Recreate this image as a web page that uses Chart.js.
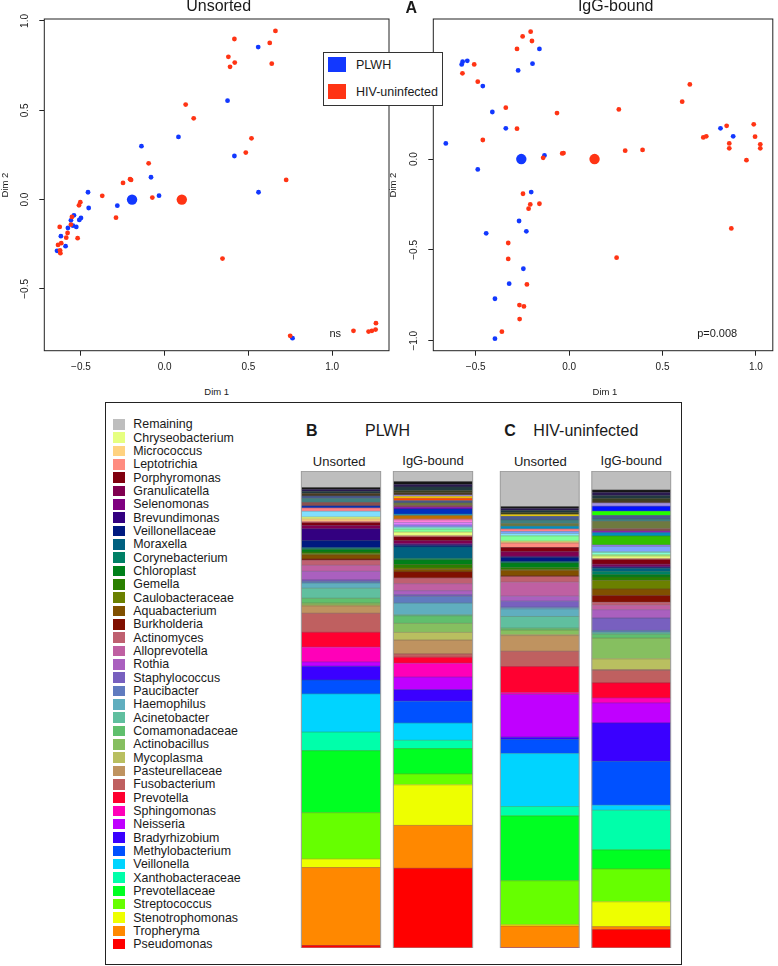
<!DOCTYPE html>
<html>
<head>
<meta charset="utf-8">
<script src="https://cdn.jsdelivr.net/npm/chart.js@4.4.1/dist/chart.umd.min.js"></script>
<style>
  body { margin: 0; width: 778px; height: 966px; position: relative; overflow: hidden; background: #fff;
         font-family: "Liberation Sans", Arial, sans-serif; color: #1a1a1a; }
  canvas { position: absolute; }
  .t { position: absolute; white-space: nowrap; line-height: 1; transform: translate(-50%, -50%); }
  .rot { transform: translate(-50%, -50%) rotate(-90deg); }
  #groupLegend { position: absolute; left: 323px; top: 52px; width: 120px; height: 54px; box-sizing: border-box;
                 border: 1px solid #333; background: #fff; z-index: 5; }
  #panel { position: absolute; left: 105px; top: 402px; width: 577px; height: 563px; box-sizing: border-box;
           border: 1.5px solid #222; }
  .sw { position: absolute; }
  .lab { position: absolute; font-size: 12.4px; line-height: 1; transform: translateY(-50%); white-space: nowrap; }
</style>
</head>
<body>
<canvas id="scUnsorted" width="395" height="385" style="left:0;top:0"></canvas>
<canvas id="scIgG" width="389" height="385" style="left:389px;top:0"></canvas>
<div id="groupLegend"></div>
<div id="panel"></div>
<canvas id="barB" width="184" height="477" style="left:295.35px;top:471.3px;z-index:3"></canvas>
<canvas id="barC" width="183" height="477" style="left:494px;top:471.3px;z-index:3"></canvas>
<div id="texts"></div>

<script>
// ---- ordination data (Dim 1 / Dim 2) ----
const unsortedPlwhX = [0.558, 0.375, 0.082, -0.139, 0.416, -0.082, -0.458, -0.034, 0.560, -0.283, -0.454, -0.500, -0.542, -0.510, -0.560, -0.548, -0.528, -0.578, -0.620, -0.592, -0.643, 0.763];
const unsortedPlwhY = [0.854, 0.554, 0.351, 0.299, 0.244, 0.125, 0.041, 0.022, 0.041, -0.034, -0.047, -0.103, -0.088, -0.114, -0.116, -0.146, -0.153, -0.159, -0.205, -0.261, -0.287, -0.776];
const unsortedHivX = [0.661, 0.416, 0.627, 0.380, 0.418, 0.390, 0.639, 0.125, 0.173, 0.518, 0.484, -0.096, 0.725, -0.207, -0.201, -0.249, -0.373, -0.074, -0.504, -0.512, -0.291, -0.554, -0.560, -0.627, -0.580, -0.588, -0.520, -0.618, -0.637, -0.625, -0.623, 0.345, 0.749, 1.127, 1.217, 1.237, 1.259, 1.261];
const unsortedHivY = [0.944, 0.899, 0.877, 0.799, 0.767, 0.743, 0.761, 0.532, 0.455, 0.343, 0.263, 0.203, 0.110, 0.114, 0.110, 0.093, 0.021, 0.011, -0.015, -0.032, -0.101, -0.097, -0.140, -0.153, -0.187, -0.213, -0.216, -0.244, -0.254, -0.284, -0.300, -0.330, -0.763, -0.735, -0.739, -0.735, -0.728, -0.692];
const unsortedCentroidX = [-0.195, 0.102];   // PLWH, HIV-uninfected

const iggPlwhX = [-0.159, -0.196, -0.273, -0.545, -0.570, -0.575, -0.462, -0.411, -0.339, -0.660, -0.132, 0.810, 0.878, -0.489, -0.203, -0.268, -0.229, -0.444, -0.245, -0.321, -0.397, -0.397];
const iggPlwhY = [0.606, 0.525, 0.488, 0.541, 0.536, 0.521, 0.402, 0.259, 0.169, 0.086, 0.020, 0.169, 0.125, -0.057, -0.182, -0.341, -0.398, -0.409, -0.604, -0.686, -0.769, -0.989];
const iggHivX = [-0.206, -0.249, -0.199, -0.279, -0.508, -0.571, -0.489, 0.646, 0.605, -0.339, 0.266, -0.065, -0.279, 0.843, 0.988, 0.995, 0.718, 0.734, -0.462, 0.857, 1.023, 0.857, 1.023, 0.393, 0.300, -0.030, -0.037, -0.139, 0.949, -0.247, -0.208, -0.159, -0.217, 0.868, -0.326, -0.326, 0.254, -0.226, -0.266, -0.242, -0.265, -0.360];
const iggHivY = [0.701, 0.675, 0.650, 0.606, 0.521, 0.472, 0.426, 0.411, 0.316, 0.283, 0.273, 0.253, 0.167, 0.183, 0.191, 0.123, 0.119, 0.125, 0.105, 0.086, 0.081, 0.059, 0.059, 0.050, 0.046, 0.033, 0.031, 0.007, -0.006, -0.191, -0.250, -0.246, -0.273, -0.382, -0.462, -0.550, -0.543, -0.690, -0.804, -0.811, -0.881, -0.950];
const iggCentroidX = [-0.256, 0.136];

const xTicks = [-0.5, 0, 0.5, 1];
const yTicksUnsorted = [-0.5, 0, 0.5, 1];
const yTicksIgG = [-1, -0.5, 0, 0.5];

const groupNames = ['PLWH', 'HIV-uninfected'];
const groupColors = ['#1238ff', '#ff3414'];

// ---- relative abundance (%), stack order bottom -> top ----
const taxa = ['Pseudomonas', 'Tropheryma', 'Stenotrophomonas', 'Streptococcus', 'Prevotellaceae', 'Xanthobacteraceae',
  'Veillonella', 'Methylobacterium', 'Bradyrhizobium', 'Neisseria', 'Sphingomonas', 'Prevotella', 'Fusobacterium',
  'Pasteurellaceae', 'Mycoplasma', 'Actinobacillus', 'Comamonadaceae', 'Acinetobacter', 'Haemophilus', 'Paucibacter',
  'Staphylococcus', 'Rothia', 'Alloprevotella', 'Actinomyces', 'Burkholderia', 'Aquabacterium', 'Caulobacteraceae',
  'Gemella', 'Chloroplast', 'Corynebacterium', 'Moraxella', 'Veillonellaceae', 'Brevundimonas', 'Selenomonas',
  'Granulicatella', 'Porphyromonas', 'Leptotrichia', 'Micrococcus', 'Chryseobacterium'];
const taxaColors = ['#ff0000', '#ff8800', '#eeff00', '#66ff00', '#00ff22', '#00ffaa', '#00d4ff', '#0051ff', '#3a00ff',
  '#c000ff', '#ff00b8', '#ff0030', '#bf6060', '#bf9360', '#b9bf60', '#86bf60', '#60bf6d', '#60bf9f', '#60aebf',
  '#607bbf', '#7860bf', '#aa60bf', '#bf60a2', '#bf6070', '#800f00', '#805000', '#6b8000', '#2a8000', '#00801a',
  '#008066', '#006080', '#001a80', '#330080', '#7f0080', '#800050', '#80000f', '#ff8c80', '#ffd280', '#e6ff80'];

const plwhUnsorted = [0.52, 16.35, 1.8, 9.7, 13.0, 3.9, 8.0, 2.9, 2.9, 0.9, 3.1, 3.1, 4.0, 1.55, 0.2, 0.4, 1.0, 2.1, 1.1, 0.3,
  0.35, 1.8, 1.26, 1.1, 0.2, 0.9, 0.2, 0.4, 0.5, 0.2, 0.2, 1.47, 2.45, 0.1, 0.6, 0.6, 0.3, 0.5, 0.4];
const plwhIgG = [16.7, 9.0, 8.5, 2.3, 5.3, 1.75, 3.6, 4.6, 2.4, 2.65, 2.9, 1.26, 0.7, 2.9, 1.6, 1.9, 1.6, 0.2, 2.45, 1.4,
  0.35, 0.85, 1.47, 1.2, 1.26, 0.5, 0.35, 0.7, 1.0, 0.3, 2.4, 0.3, 0.2, 0.2, 0.6, 0.8, 0.15, 0.15, 0.7];
const hivUnsorted = [0.1, 4.5, 0.3, 9.2, 13.6, 1.96, 11.1, 2.94, 0.5, 8.95, 0.35, 5.5, 3.2, 3.3, 0.2, 0.95, 0.4, 2.45, 1.6, 0.35,
  1.26, 1.05, 2.94, 1.2, 0.1, 1.2, 0.1, 0.4, 1.0, 0.15, 0.15, 0.9, 0.15, 0.1, 0.9, 0.9, 0.95, 0.2, 0.2];
const hivIgG = [3.85, 0.63, 5.2, 6.9, 4.0, 8.3, 1.05, 9.2, 8.05, 4.2, 1.05, 3.15, 2.6, 0.2, 2.24, 4.35, 0.8, 0.3, 0.2, 0.3,
  2.6, 1.75, 0.95, 0.6, 1.4, 1.4, 1.8, 0.7, 0.5, 0.7, 0.6, 0.2, 0.15, 0.15, 0.4, 1.0, 0.1, 0.1, 0.5];

// unlabelled low-abundance taxa stacked above the named ones
const minorColors = ['#a0ff80', '#80ff9a', '#80ffd4', '#80dfff', '#80a4ff', '#9c80ff', '#e280ff', '#ff80d6', '#ff8088',
  '#bf7000', '#33bf00', '#0090bf', '#0030bf', '#8c00bf', '#8a5050', '#6e7a40', '#408080', '#4a5a90',
  '#ff4400', '#ffdd00', '#22ff00', '#0010ff', '#a090e0', '#4a3a20', '#3a4020', '#203a40', '#2a1a50', '#151515'];
const minorPlwhUnsorted = [0, 0, 0, 1.2, 0, 0, 0, 0, 0.7, 0, 0, 0, 0.4, 0, 0.75, 0, 0.85, 0.5, 0, 0, 0, 0, 0, 0.55, 0, 0.4, 0.4, 0.4];
const minorPlwhIgG = [0, 0.6, 0.3, 0, 0.3, 0.3, 0.5, 0.55, 0.2, 0.7, 0, 0.31, 1.1, 0.35, 0.4, 0.5, 0, 0.45, 0.55, 0.35, 0, 0, 0.3, 0.5, 0.4, 0.8, 0.5, 0.6];
const minorHivUnsorted = [0, 1.1, 0, 0.5, 0.4, 0, 0, 0, 0.55, 0, 0, 0.55, 0, 0, 0, 0.55, 0.8, 0.75, 0, 0.35, 0, 0, 0, 0, 0.45, 0.4, 0.45, 0.35];
const minorHivIgG = [0.25, 0, 0.5, 0.2, 1.05, 0.3, 0, 0, 0, 0, 1.9, 0.7, 0, 0.3, 0.5, 1.55, 0.53, 0.7, 0, 0, 0.9, 1.05, 0.7, 0.4, 0.5, 0.6, 0.7, 0.5];

const remainingColor = '#bebebe';
const remainingShare = [3.5, 2.25, 7.5, 4.0];   // PLWH unsorted, PLWH IgG, HIV unsorted, HIV IgG

const FONT = '"Liberation Sans", Arial, sans-serif';

// ---- helpers ----
const pts = (xs, ys) => xs.map((x, i) => ({ x, y: ys[i] }));
const fmt = v => (v < 0 ? '\u2212' : '') + Math.abs(v).toFixed(1);
// separator line: the segment colour pulled towards dark grey
function edge(hex) {
  const n = parseInt(hex.slice(1), 16);
  const mix = c => Math.round(c * 0.6 + 0x40 * 0.4);
  return `rgb(${mix(n >> 16)},${mix((n >> 8) & 255)},${mix(n & 255)})`;
}

const framePlugin = {
  id: 'frame',
  afterDraw(chart) {
    const { ctx, chartArea: a } = chart;
    ctx.save();
    ctx.strokeStyle = '#222';
    ctx.lineWidth = 1;
    ctx.strokeRect(a.left, a.top, a.right - a.left, a.bottom - a.top);
    ctx.restore();
  }
};

function scatter(id, plwhX, plwhY, hivX, hivY, centroidX, xr, yr, yTicks, padRight) {
  new Chart(document.getElementById(id), {
    type: 'scatter',
    data: {
      datasets: [
        { data: pts(hivX, hivY), backgroundColor: groupColors[1], pointRadius: 2.4, borderWidth: 0 },
        { data: pts(plwhX, plwhY), backgroundColor: groupColors[0], pointRadius: 2.4, borderWidth: 0 },
        { data: [{ x: centroidX[0], y: 0 }], backgroundColor: groupColors[0], pointRadius: 5.2, borderWidth: 0 },
        { data: [{ x: centroidX[1], y: 0 }], backgroundColor: groupColors[1], pointRadius: 5.2, borderWidth: 0 }
      ]
    },
    options: {
      responsive: false,
      animation: false,
      layout: { padding: { top: 19, right: padRight, left: 0, bottom: 0 } },
      plugins: { legend: { display: false }, tooltip: { enabled: false } },
      scales: {
        x: {
          type: 'linear', min: xr[0], max: xr[1],
          afterBuildTicks: a => { a.ticks = xTicks.map(v => ({ value: v })); },
          afterFit: a => { a.height = 34.3; },
          border: { display: false },
          grid: { drawOnChartArea: false, tickLength: 5, color: '#222', lineWidth: 1 },
          ticks: { autoSkip: false, maxRotation: 0, padding: 6, color: '#1a1a1a', font: { family: FONT, size: 10 }, callback: fmt }
        },
        y: {
          type: 'linear', min: yr[0], max: yr[1],
          afterBuildTicks: a => { a.ticks = yTicks.map(v => ({ value: v })); },
          afterFit: a => { a.width = 44.3; },
          border: { display: false },
          grid: { drawOnChartArea: false, tickLength: 5, color: '#222', lineWidth: 1 },
          ticks: { autoSkip: false, minRotation: 90, maxRotation: 90, crossAlign: 'center', padding: 4,
                   color: '#1a1a1a', font: { family: FONT, size: 10 }, callback: fmt }
        }
      }
    },
    plugins: [framePlugin]
  });
}

scatter('scUnsorted', unsortedPlwhX, unsortedPlwhY, unsortedHivX, unsortedHivY, unsortedCentroidX,
  [-0.719, 1.339], [-0.846, 1.011], yTicksUnsorted, 6);
scatter('scIgG', iggPlwhX, iggPlwhY, iggHivX, iggHivY, iggCentroidX,
  [-0.727, 1.09], [-1.055, 0.771], yTicksIgG, 1.3);

// ---- stacked bars ----
// thin darker line on top of every segment, then a grey outline round each bar
const segmentPlugin = {
  id: 'segments',
  afterDatasetsDraw(chart) {
    const ctx = chart.ctx, y = chart.scales.y;
    ctx.save();
    ctx.lineWidth = 0.7;
    chart.data.datasets.forEach((ds, di) => {
      chart.getDatasetMeta(di).data.forEach((bar, i) => {
        if (!ds.data[i]) return;
        const { x, y: top, width } = bar.getProps(['x', 'y', 'width'], true);
        ctx.strokeStyle = edge(ds.backgroundColor);
        ctx.beginPath();
        ctx.moveTo(x - width / 2, top);
        ctx.lineTo(x + width / 2, top);
        ctx.stroke();
      });
    });
    const top = y.getPixelForValue(100), bottom = y.getPixelForValue(0);
    ctx.strokeStyle = '#9a9a9a';
    ctx.lineWidth = 1;
    chart.getDatasetMeta(0).data.forEach(bar => {
      const { x, width } = bar.getProps(['x', 'width'], true);
      ctx.strokeRect(x - width / 2, top, width, bottom - top);
    });
    ctx.restore();
  }
};

function stackDatasets(a, b, minA, minB, remA, remB) {
  const common = { borderWidth: 0, categoryPercentage: 1, barPercentage: 0.862 };
  const ds = [];
  taxa.forEach((name, i) => ds.push({ ...common, label: name, data: [a[i], b[i]], backgroundColor: taxaColors[i] }));
  minorColors.forEach((c, i) => ds.push({ ...common, label: 'other ' + (i + 1), data: [minA[i], minB[i]], backgroundColor: c }));
  ds.push({ ...common, label: 'Remaining', data: [remA, remB], backgroundColor: remainingColor });
  return ds;
}

function bars(id, datasets) {
  new Chart(document.getElementById(id), {
    type: 'bar',
    data: { labels: ['Unsorted', 'IgG-bound'], datasets },
    options: {
      responsive: false,
      animation: false,
      layout: { padding: 0 },
      plugins: { legend: { display: false }, tooltip: { enabled: false } },
      scales: {
        x: { display: false, stacked: true },
        y: { display: false, stacked: true, min: 0, max: 100 }
      }
    },
    plugins: [segmentPlugin]
  });
}

bars('barB', stackDatasets(plwhUnsorted, plwhIgG, minorPlwhUnsorted, minorPlwhIgG, remainingShare[0], remainingShare[1]));
bars('barC', stackDatasets(hivUnsorted, hivIgG, minorHivUnsorted, minorHivIgG, remainingShare[2], remainingShare[3]));

// ---- legends and text ----
const gl = document.getElementById('groupLegend');
groupNames.forEach((n, i) => {
  const sq = document.createElement('div');
  sq.className = 'sw';
  sq.style.cssText = `left:4px;top:${4.3 + i * 26.7}px;width:18px;height:15px;background:${groupColors[i]}`;
  gl.appendChild(sq);
  const tx = document.createElement('div');
  tx.className = 'lab';
  tx.style.cssText = `left:32px;top:${12 + i * 26.7}px;font-size:12.5px`;
  tx.textContent = n;
  gl.appendChild(tx);
});

const legendNames = ['Remaining'].concat(taxa.slice().reverse());
const legendColors = [remainingColor].concat(taxaColors.slice().reverse());
const texts = document.getElementById('texts');
legendNames.forEach((n, i) => {
  const cy = 424.3 + i * 13.33;
  const sq = document.createElement('div');
  sq.className = 'sw';
  sq.style.cssText = `left:113.3px;top:${cy - 5.3}px;width:11.7px;height:10.6px;background:${legendColors[i]}`;
  texts.appendChild(sq);
  const tx = document.createElement('div');
  tx.className = 'lab';
  tx.style.cssText = `left:133.3px;top:${cy}px`;
  tx.textContent = n;
  texts.appendChild(tx);
});

const labels = [
  ['Unsorted', 218.7, 6, 16, ''],
  ['A', 411.3, 7.5, 16, 'font-weight:bold'],
  ['IgG-bound', 615.7, 6, 16, ''],
  ['ns', 335.2, 332.5, 11, ''],
  ['p=0.008', 717.2, 332.5, 11, ''],
  ['Dim 1', 216.7, 392.3, 9.5, ''],
  ['Dim 1', 605, 392.3, 9.5, ''],
  ['B', 311.7, 430.8, 16, 'font-weight:bold'],
  ['PLWH', 387.5, 430.8, 16, ''],
  ['C', 510, 431.3, 16, 'font-weight:bold'],
  ['HIV-uninfected', 585.8, 431, 16, ''],
  ['Unsorted', 339.2, 460.5, 13, ''],
  ['IgG-bound', 433, 459.5, 13, ''],
  ['Unsorted', 540.3, 460.5, 13, ''],
  ['IgG-bound', 631.3, 459.5, 13, '']
];
labels.forEach(([s, x, y, size, extra]) => {
  const d = document.createElement('div');
  d.className = 't';
  d.style.cssText = `left:${x}px;top:${y}px;font-size:${size}px;${extra}`;
  d.textContent = s;
  texts.appendChild(d);
});
[[4.5, 184.5], [393, 185]].forEach(([x, y]) => {
  const d = document.createElement('div');
  d.className = 't rot';
  d.style.cssText = `left:${x}px;top:${y}px;font-size:9.5px`;
  d.textContent = 'Dim 2';
  texts.appendChild(d);
});
</script>
</body>
</html>
